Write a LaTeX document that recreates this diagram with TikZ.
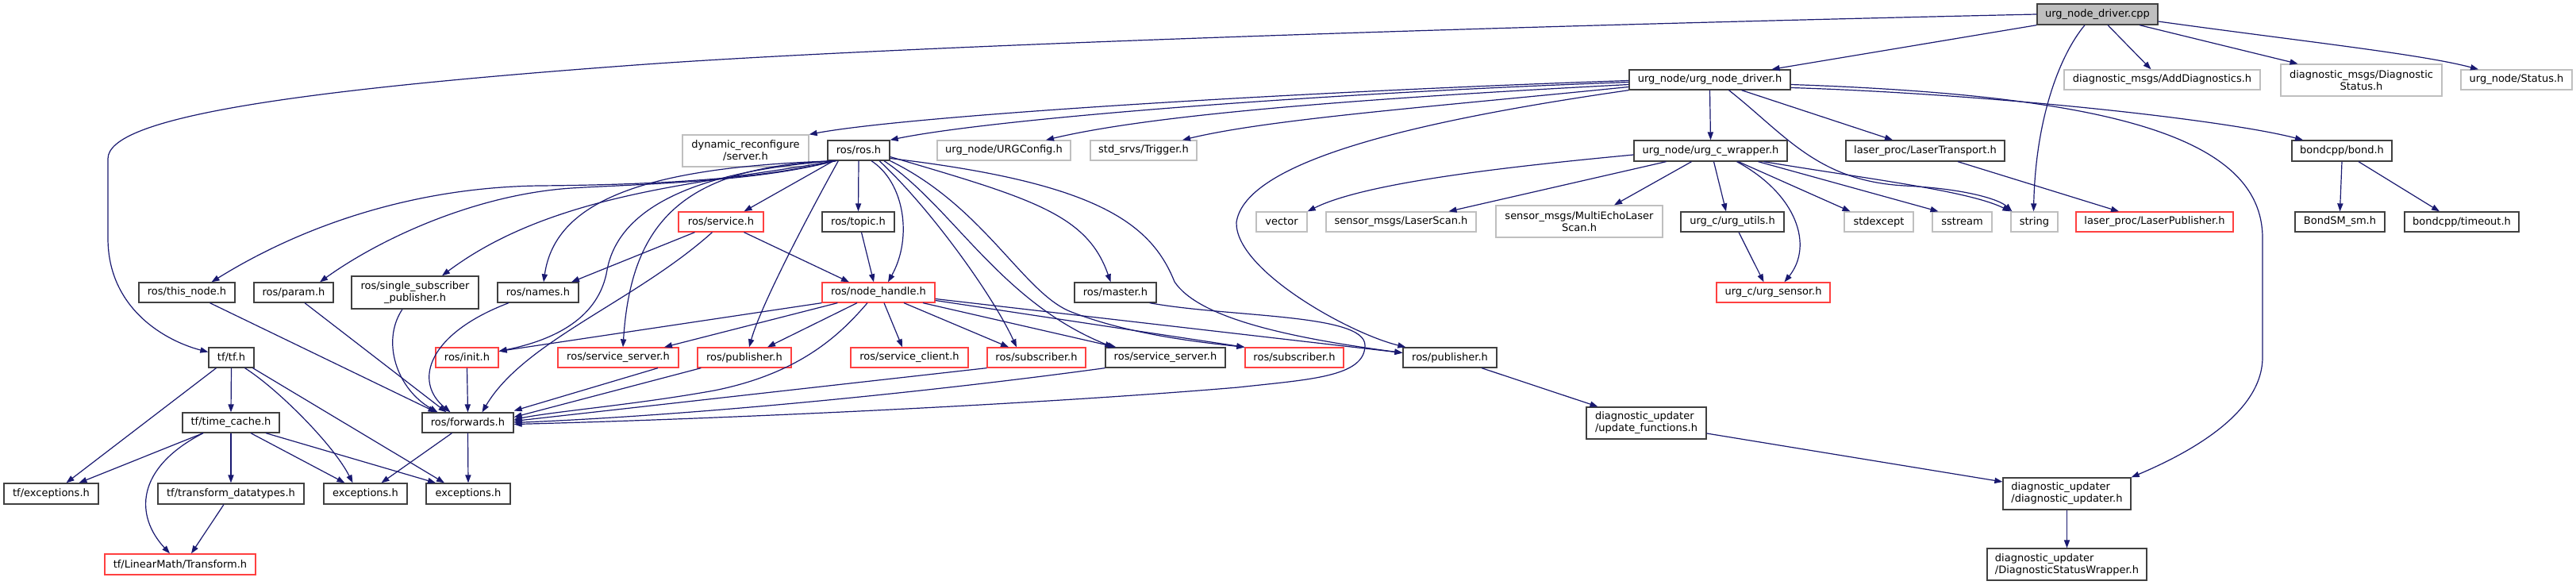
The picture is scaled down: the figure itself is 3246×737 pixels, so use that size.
\documentclass[tikz,border=0pt]{standalone}
\usepackage{fontspec}
\setmainfont{DejaVu Sans}
\usetikzlibrary{arrows.meta,calc}
\definecolor{mblue}{HTML}{191970}
\definecolor{bk}{HTML}{404040}
\definecolor{rd}{HTML}{FF4040}
\definecolor{gy}{HTML}{BFBFBF}
\tikzset{
 box/.style={rectangle, inner sep=0pt, line width=0.65pt, font=\fontsize{6.5}{7.5}\selectfont, align=center},
 nb/.style={box, draw=bk},
 nr/.style={box, draw=rd},
 ng/.style={box, draw=gy},
 nl/.style={align=left},
 ncpp/.style={box, draw=bk, fill=gy},
 dep/.style={draw=mblue, line width=0.6pt, -{Triangle[length=5pt,width=3.6pt]}},
}
\newcommand\mknode[7]{\node[#6, minimum width={(#4-#2)*0.5pt}, minimum height={(#5-#3)*0.5pt}] (#1) at ({(#2+#4)/2},{(#3+#5)/2}) {#7};}
\begin{document}
\begin{tikzpicture}[x=0.5pt,y=-0.5pt]
\path[use as bounding box, fill=white] (0,0) rectangle (3246,737);
% nodes
\mknode{cpp}{2567}{5}{2719}{31}{ncpp}{urg\_node\_driver.cpp}
\mknode{adddiag}{2601}{88}{2848}{113}{ng}{diagnostic\_msgs/AddDiagnostics.h}
\mknode{diagstat}{2874}{81}{3077}{121}{ng}{diagnostic\_msgs/Diagnostic\\Status.h}
\mknode{status}{3101}{88}{3241}{113}{ng}{urg\_node/Status.h}
\mknode{und}{2053}{88}{2256}{113}{nb}{urg\_node/urg\_node\_driver.h}
\mknode{dynrec}{860}{170}{1019}{210}{ng}{dynamic\_reconfigure\\/server.h}
\mknode{rosh}{1043}{177}{1121}{202}{nb}{ros/ros.h}
\mknode{urgconfig}{1181}{177}{1349}{202}{ng}{urg\_node/URGConfig.h}
\mknode{trigger}{1374}{177}{1508}{202}{ng}{std\_srvs/Trigger.h}
\mknode{wrapper}{2059}{177}{2252}{203}{nb}{urg\_node/urg\_c\_wrapper.h}
\mknode{lasertrans}{2326}{177}{2526}{203}{nb}{laser\_proc/LaserTransport.h}
\mknode{bond}{2888}{177}{3014}{203}{nb}{bondcpp/bond.h}
\mknode{vector}{1583}{267}{1647}{292}{ng}{vector}
\mknode{laserscan}{1671}{267}{1860}{292}{ng}{sensor\_msgs/LaserScan.h}
\mknode{multiecho}{1885}{259}{2095}{299}{ng}{sensor\_msgs/MultiEchoLaser\\Scan.h}
\mknode{utils}{2118}{267}{2248}{292}{nb}{urg\_c/urg\_utils.h}
\mknode{stdexcept}{2324}{267}{2411}{292}{ng}{stdexcept}
\mknode{sstream}{2435}{267}{2510}{292}{ng}{sstream}
\mknode{string}{2534}{267}{2593}{292}{ng}{string}
\mknode{laserpub}{2616}{267}{2814}{292}{nr}{laser\_proc/LaserPublisher.h}
\mknode{bondsm}{2892}{267}{3005}{292}{nb}{BondSM\_sm.h}
\mknode{timeout}{3030}{267}{3174}{292}{nb}{bondcpp/timeout.h}
\mknode{service}{855}{267}{962}{292}{nr}{ros/service.h}
\mknode{topic}{1036}{267}{1127}{292}{nb}{ros/topic.h}
\mknode{sensor}{2163}{356}{2306}{381}{nr}{urg\_c/urg\_sensor.h}
\mknode{thisnode}{175}{356}{296}{381}{nb}{ros/this\_node.h}
\mknode{param}{320}{356}{420}{381}{nb}{ros/param.h}
\mknode{singlesub}{443}{348}{603}{389}{nb}{ros/single\_subscriber\\\_publisher.h}
\mknode{names}{627}{356}{729}{381}{nb}{ros/names.h}
\mknode{nodehandle}{1036}{356}{1178}{381}{nr}{ros/node\_handle.h}
\mknode{master}{1354}{356}{1457}{381}{nb}{ros/master.h}
\mknode{tfh}{263}{438}{320}{463}{nb}{tf/tf.h}
\mknode{init}{549}{438}{628}{463}{nr}{ros/init.h}
\mknode{ssR}{703}{438}{855}{463}{nr}{ros/service\_server.h}
\mknode{pubR}{879}{438}{997}{463}{nr}{ros/publisher.h}
\mknode{client}{1072}{438}{1220}{463}{nr}{ros/service\_client.h}
\mknode{subR}{1244}{438}{1368}{463}{nr}{ros/subscriber.h}
\mknode{ssB}{1393}{438}{1544}{463}{nb}{ros/service\_server.h}
\mknode{subR2}{1569}{438}{1693}{463}{nr}{ros/subscriber.h}
\mknode{pubB}{1768}{438}{1886}{463}{nb}{ros/publisher.h}
\mknode{timecache}{230}{520}{352}{545}{nb}{tf/time\_cache.h}
\mknode{forwards}{532}{520}{647}{545}{nb}{ros/forwards.h}
\mknode{updfunc}{1999}{513}{2150}{553}{nb,nl}{diagnostic\_updater\\/update\_functions.h}
\mknode{tfexc}{5}{609}{124}{635}{nb}{tf/exceptions.h}
\mknode{transformdt}{199}{609}{383}{635}{nb}{tf/transform\_datatypes.h}
\mknode{exc1}{408}{609}{513}{635}{nb}{exceptions.h}
\mknode{exc2}{537}{609}{643}{635}{nb}{exceptions.h}
\mknode{diagupd}{2524}{602}{2685}{642}{nb,nl}{diagnostic\_updater\\/diagnostic\_updater.h}
\mknode{dsw}{2504}{691}{2705}{731}{nb,nl}{diagnostic\_updater\\/DiagnosticStatusWrapper.h}
\mknode{linmath}{132}{698}{322}{724}{nr}{tf/LinearMath/Transform.h}
% edges from cpp
\draw[dep] (cpp.west) .. controls (1800,35) and (1100,60) .. (800,82) .. controls (350,115) and (136,150) .. (136,200) -- (136,300) .. controls (136,390) and (210,430) .. ($(tfh.west)+(0,-7)$);
\draw[dep] (cpp.south west) -- ($(und.north)+(78,0)$);
\draw[dep] ($(cpp.south)+(-16,0)$) .. controls (2595,70) and (2565,150) .. ($(string.north)+(-1,0)$);
\draw[dep] ($(cpp.south)+(13,0)$) -- ($(adddiag.north)+(-14,0)$);
\draw[dep] ($(cpp.south)+(53,0)$) -- ($(diagstat.north)+(-80,0)$);
\draw[dep] ($(cpp.east)+(0,9)$) .. controls (2900,52) and (3050,68) .. ($(status.north)+(-48,0)$);
% edges from urg_node_driver.h
\draw[dep] ($(und.west)+(0,1)$) .. controls (1650,115) and (1150,145) .. (dynrec.north east);
\draw[dep] ($(und.west)+(0,3)$) .. controls (1650,118) and (1250,150) .. (rosh.north east);
\draw[dep] ($(und.west)+(0,6)$) .. controls (1700,125) and (1450,145) .. ($(urgconfig.north)+(53,0)$);
\draw[dep] ($(und.west)+(0,9)$) .. controls (1800,135) and (1600,150) .. ($(trigger.north)+(49,0)$);
\draw[dep] (und.south west) .. controls (1800,150) and (1570,200) .. (1558,280) .. controls (1556,340) and (1700,420) .. ($(pubB.north west)+(4,0)$);
\draw[dep] (und.south) -- (wrapper.north);
\draw[dep] ($(und.south)+(40,0)$) -- ($(lasertrans.north)+(-41,0)$);
\draw[dep] ($(und.south)+(24,0)$) .. controls (2250,170) and (2290,228) .. (2400,234) .. controls (2480,238) and (2520,252) .. ($(string.north west)+(2,0)$);
\draw[dep] ($(und.east)+(0,10)$) .. controls (2500,118) and (2800,150) .. ($(bond.north)+(-49,0)$);
\draw[dep] ($(und.east)+(0,6)$) .. controls (2650,120) and (2851,170) .. (2851,300) -- (2851,450) .. controls (2851,520) and (2760,570) .. (diagupd.north east);
% edges from urg_c_wrapper.h
\draw[dep] ($(wrapper.west)+(0,5)$) .. controls (1900,210) and (1720,230) .. (vector.north east);
\draw[dep] ($(wrapper.south)+(-56,0)$) -- ($(laserscan.north)+(60,0)$);
\draw[dep] ($(wrapper.south)+(-24,0)$) -- ($(multiecho.north)+(44,0)$);
\draw[dep] ($(wrapper.south)+(4,0)$) -- ($(utils.north)+(-8,0)$);
\draw[dep] ($(wrapper.south)+(33,0)$) .. controls (2265,245) and (2285,310) .. ($(sensor.north)+(14,0)$);
\draw[dep] ($(wrapper.south)+(35,0)$) -- ($(stdexcept.north)+(-36,0)$);
\draw[dep] ($(wrapper.south)+(60,0)$) -- ($(sstream.north)+(-30,0)$);
\draw[dep] ($(wrapper.south)+(67,0)$) .. controls (2350,225) and (2480,240) .. (string.north west);
\draw[dep] ($(utils.south)+(8,0)$) -- ($(sensor.north)+(-12,0)$);
\draw[dep] ($(lasertrans.south)+(41,0)$) -- ($(laserpub.north)+(-45,0)$);
\draw[dep] (bond.south) -- (bondsm.north);
\draw[dep] ($(bond.south)+(21,0)$) -- ($(timeout.north)+(-28,0)$);
% edges from ros/ros.h
\draw[dep] ($(rosh.south west)+(10,0)$) .. controls (950,228) and (800,233) .. (680,234) .. controls (520,236) and (380,285) .. ($(thisnode.north)+(31,0)$);
\draw[dep] ($(rosh.south west)+(10,0)$) .. controls (950,230) and (800,232) .. (720,237) .. controls (600,245) and (480,300) .. ($(param.north)+(33,0)$);
\draw[dep] ($(rosh.south west)+(10,0)$) .. controls (900,230) and (700,240) .. ($(singlesub.north)+(34,0)$);
\draw[dep] ($(rosh.south west)+(12,0)$) .. controls (820,210) and (700,250) .. ($(names.north)+(7,0)$);
\draw[dep] ($(rosh.south west)+(8,0)$) -- ($(service.north)+(29,0)$);
\draw[dep] (rosh.south) -- (topic.north);
\draw[dep] ($(rosh.south)+(16,0)$) .. controls (1140,230) and (1150,300) .. ($(nodehandle.north)+(12,0)$);
\draw[dep] ($(rosh.east)+(0,8)$) .. controls (1300,250) and (1370,270) .. ($(master.north)+(-6,0)$);
\draw[dep] ($(rosh.east)+(0,10)$) .. controls (1380,230) and (1450,280) .. (1480,355) .. controls (1510,400) and (1620,425) .. ($(pubB.west)+(0,-6)$);
\draw[dep] ($(rosh.south west)+(10,0)$) .. controls (880,215) and (780,260) .. (765,340) .. controls (755,400) and (700,428) .. ($(init.east)+(0,-8)$);
\draw[dep] ($(rosh.south west)+(10,0)$) .. controls (860,210) and (795,280) .. ($(ssR.north)+(6,0)$);
\draw[dep] ($(rosh.south west)+(14,0)$) .. controls (1030,250) and (960,380) .. ($(pubR.north)+(6,0)$);
\draw[dep] ($(rosh.south)+(26,0)$) .. controls (1170,260) and (1250,370) .. ($(subR.north)+(-25,0)$);
\draw[dep] ($(rosh.south)+(32,0)$) .. controls (1200,260) and (1260,380) .. ($(ssB.north west)+(10,0)$);
\draw[dep] (rosh.south east) .. controls (1240,260) and (1290,370) .. (1350,393) .. controls (1420,420) and (1500,430) .. (subR2.north west);
% edges from ros/service.h and ros/topic.h
\draw[dep] ($(service.south)+(-33,0)$) -- ($(names.north)+(42,0)$);
\draw[dep] ($(service.south)+(-11,0)$) .. controls (800,380) and (660,430) .. ($(forwards.north)+(18,0)$);
\draw[dep] ($(service.south)+(29,0)$) -- ($(nodehandle.north)+(-37,0)$);
\draw[dep] ($(topic.south)+(4,0)$) -- ($(nodehandle.north)+(-6,0)$);
% edges from ros/node_handle.h
\draw[dep] (nodehandle.south west) -- ($(init.east)+(0,-8)$);
\draw[dep] ($(nodehandle.south west)+(20,0)$) -- ($(ssR.north)+(58,0)$);
\draw[dep] ($(nodehandle.south)+(-27,0)$) -- ($(pubR.north)+(29,0)$);
\draw[dep] ($(nodehandle.south)+(7,0)$) -- ($(client.north)+(-9,0)$);
\draw[dep] ($(nodehandle.south)+(32,0)$) -- ($(subR.north)+(-35,0)$);
\draw[dep] ($(nodehandle.south)+(56,0)$) -- ($(ssB.north west)+(14,0)$);
\draw[dep] ($(nodehandle.east)+(0,10)$) -- (subR2.north west);
\draw[dep] ($(nodehandle.east)+(0,8)$) -- ($(pubB.west)+(0,-6)$);
\draw[dep] ($(nodehandle.south)+(-14,0)$) .. controls (1060,420) and (1010,470) .. (900,492) .. controls (800,510) and (700,518) .. ($(forwards.east)+(0,-4)$);
% edges into ros/forwards.h
\draw[dep] ($(pubR.south west)+(5,0)$) -- ($(forwards.east)+(0,-7)$);
\draw[dep] (subR.south west) -- ($(forwards.east)+(0,-2)$);
\draw[dep] (ssB.south west) .. controls (1200,490) and (900,522) .. (forwards.east);
\draw[dep] ($(master.south east)+(-9,0)$) .. controls (1550,400) and (1720,395) .. (1720,435) .. controls (1720,475) and (1650,478) .. (1560,488) .. controls (1300,510) and (900,528) .. ($(forwards.east)+(0,2)$);
\draw[dep] ($(ssR.south)+(50,0)$) -- ($(forwards.east)+(0,-15)$);
\draw[dep] (init.south) -- (forwards.north);
\draw[dep] ($(thisnode.south)+(29,0)$) -- ($(forwards.north)+(-40,0)$);
\draw[dep] ($(param.south)+(14,0)$) -- ($(forwards.north)+(-27,0)$);
\draw[dep] ($(singlesub.south)+(-16,0)$) .. controls (480,430) and (500,490) .. ($(forwards.north)+(-38,0)$);
\draw[dep] ($(names.south)+(-37,0)$) .. controls (540,420) and (520,480) .. ($(forwards.north)+(-22,0)$);
\draw[dep] ($(forwards.south)+(-20,0)$) -- ($(exc1.north)+(20,0)$);
\draw[dep] (forwards.south) -- (exc2.north);
% edges from tf
\draw[dep] ($(tfh.south)+(-19,0)$) -- ($(tfexc.north)+(19,0)$);
\draw[dep] (tfh.south) -- (timecache.north);
\draw[dep] ($(tfh.south)+(17,0)$) .. controls (350,490) and (420,560) .. ($(exc1.north)+(-16,0)$);
\draw[dep] ($(tfh.south)+(27,0)$) -- ($(exc2.north)+(-30,0)$);
\draw[dep] ($(timecache.south)+(-35,0)$) -- ($(tfexc.north)+(35,0)$);
\draw[dep] ($(timecache.south)+(-35,0)$) .. controls (170,590) and (170,650) .. ($(linmath.north)+(-13,0)$);
\draw[dep] (timecache.south) -- (transformdt.north);
\draw[dep] ($(timecache.south)+(25,0)$) -- ($(exc1.north)+(-26,0)$);
\draw[dep] ($(timecache.south)+(44,0)$) -- ($(exc2.north)+(-41,0)$);
\draw[dep] ($(transformdt.south)+(-9,0)$) -- ($(linmath.north)+(14,0)$);
% diagnostic updater chain
\draw[dep] ($(pubB.south)+(40,0)$) -- ($(updfunc.north)+(-61,0)$);
\draw[dep] ($(updfunc.east)+(0,13)$) -- ($(diagupd.west)+(0,-15)$);
\draw[dep] (diagupd.south) -- (dsw.north);
\end{tikzpicture}
\end{document}
